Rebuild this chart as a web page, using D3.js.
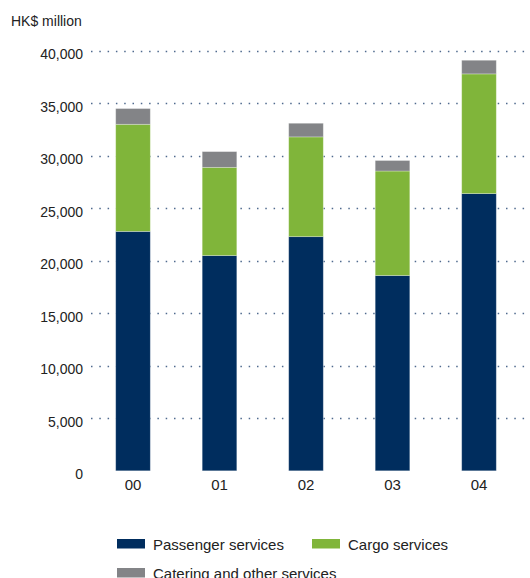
<!DOCTYPE html>
<html>
<head>
<meta charset="utf-8">
<script src="https://cdn.jsdelivr.net/npm/d3@7/dist/d3.min.js"></script>
<style>
  html, body { margin: 0; padding: 0; background: #fff; }
  svg { display: block; font-family: "Liberation Sans", Arial, sans-serif; }
</style>
</head>
<body>
<svg id="chart" width="530" height="578"></svg>
<script>
// Revenue by business, HK$ million
const years = ["00", "01", "02", "03", "04"];
const passenger = [22800, 20500, 22300, 18600, 26400];
const cargo = [10200, 8400, 9500, 9950, 11400];
const catering = [1500, 1500, 1300, 1000, 1300];
const yTicks = [0, 5000, 10000, 15000, 20000, 25000, 30000, 35000, 40000];

const seriesNames = ["Passenger services", "Cargo services", "Catering and other services"];
const seriesColors = ["#002d5e", "#80b53a", "#838487"];

const rows = years.map((y, i) => ({
  year: y,
  passenger: passenger[i],
  cargo: cargo[i],
  catering: catering[i]
}));
const keys = ["passenger", "cargo", "catering"];
const stacked = d3.stack().keys(keys)(rows);

const svg = d3.select("#chart");

const x = d3.scaleBand()
  .domain(years)
  .range([89.75, 522.25])
  .paddingInner(0.6)
  .paddingOuter(0.3);

const y = d3.scaleLinear()
  .domain([0, 40000])
  .range([470.8, 50.8]);

// Dotted gridlines
svg.append("g")
  .selectAll("line")
  .data(yTicks.filter(d => d > 0))
  .join("line")
  .attr("x1", 91)
  .attr("x2", 530)
  .attr("y1", d => Math.round(y(d)) + 0.5)
  .attr("y2", d => Math.round(y(d)) + 0.5)
  .attr("stroke", "#4f6a8e")
  .attr("stroke-width", 1.5)
  .attr("stroke-dasharray", "1.5 6.8");

// Y axis labels
const yAxis = d3.axisLeft(y)
  .tickValues(yTicks)
  .tickSize(0)
  .tickPadding(0)
  .tickFormat(d3.format(","));
const yg = svg.append("g").attr("transform", "translate(83,0)").call(yAxis);
yg.select(".domain").remove();
yg.selectAll("text")
  .attr("fill", "#222")
  .attr("font-size", 14)
  .attr("dy", "0.55em");

// Stacked bars
svg.append("g")
  .selectAll("g")
  .data(stacked)
  .join("g")
  .attr("fill", (d, i) => seriesColors[i])
  .selectAll("rect")
  .data(d => d)
  .join("rect")
  .attr("x", d => x(d.data.year))
  .attr("width", x.bandwidth())
  .attr("y", d => y(d[1]))
  .attr("height", d => y(d[0]) - y(d[1]))
  .attr("stroke", "#ffffff")
  .attr("stroke-opacity", 0.35)
  .attr("stroke-width", 0.8);

// X axis labels
const xAxis = d3.axisBottom(x).tickSize(0).tickPadding(0);
const xg = svg.append("g").attr("transform", "translate(0,481)").call(xAxis);
xg.select(".domain").remove();
xg.selectAll("text")
  .attr("fill", "#222")
  .attr("font-size", 15)
  .attr("dy", "0.6em");

// Unit label
svg.append("text")
  .attr("x", 11)
  .attr("y", 26)
  .attr("fill", "#222")
  .attr("font-size", 14)
  .text("HK$ million");

// Legend
const legendPos = [
  { x: 117, y: 539 },
  { x: 312, y: 539 },
  { x: 117, y: 568 }
];
const legend = svg.append("g")
  .selectAll("g")
  .data(seriesNames)
  .join("g")
  .attr("transform", (d, i) => `translate(${legendPos[i].x},${legendPos[i].y})`);
legend.append("rect")
  .attr("width", 28)
  .attr("height", 9.5)
  .attr("fill", (d, i) => seriesColors[i]);
legend.append("text")
  .attr("x", 36)
  .attr("y", 10.5)
  .attr("fill", "#222")
  .attr("font-size", 15)
  .text(d => d);
</script>
</body>
</html>
